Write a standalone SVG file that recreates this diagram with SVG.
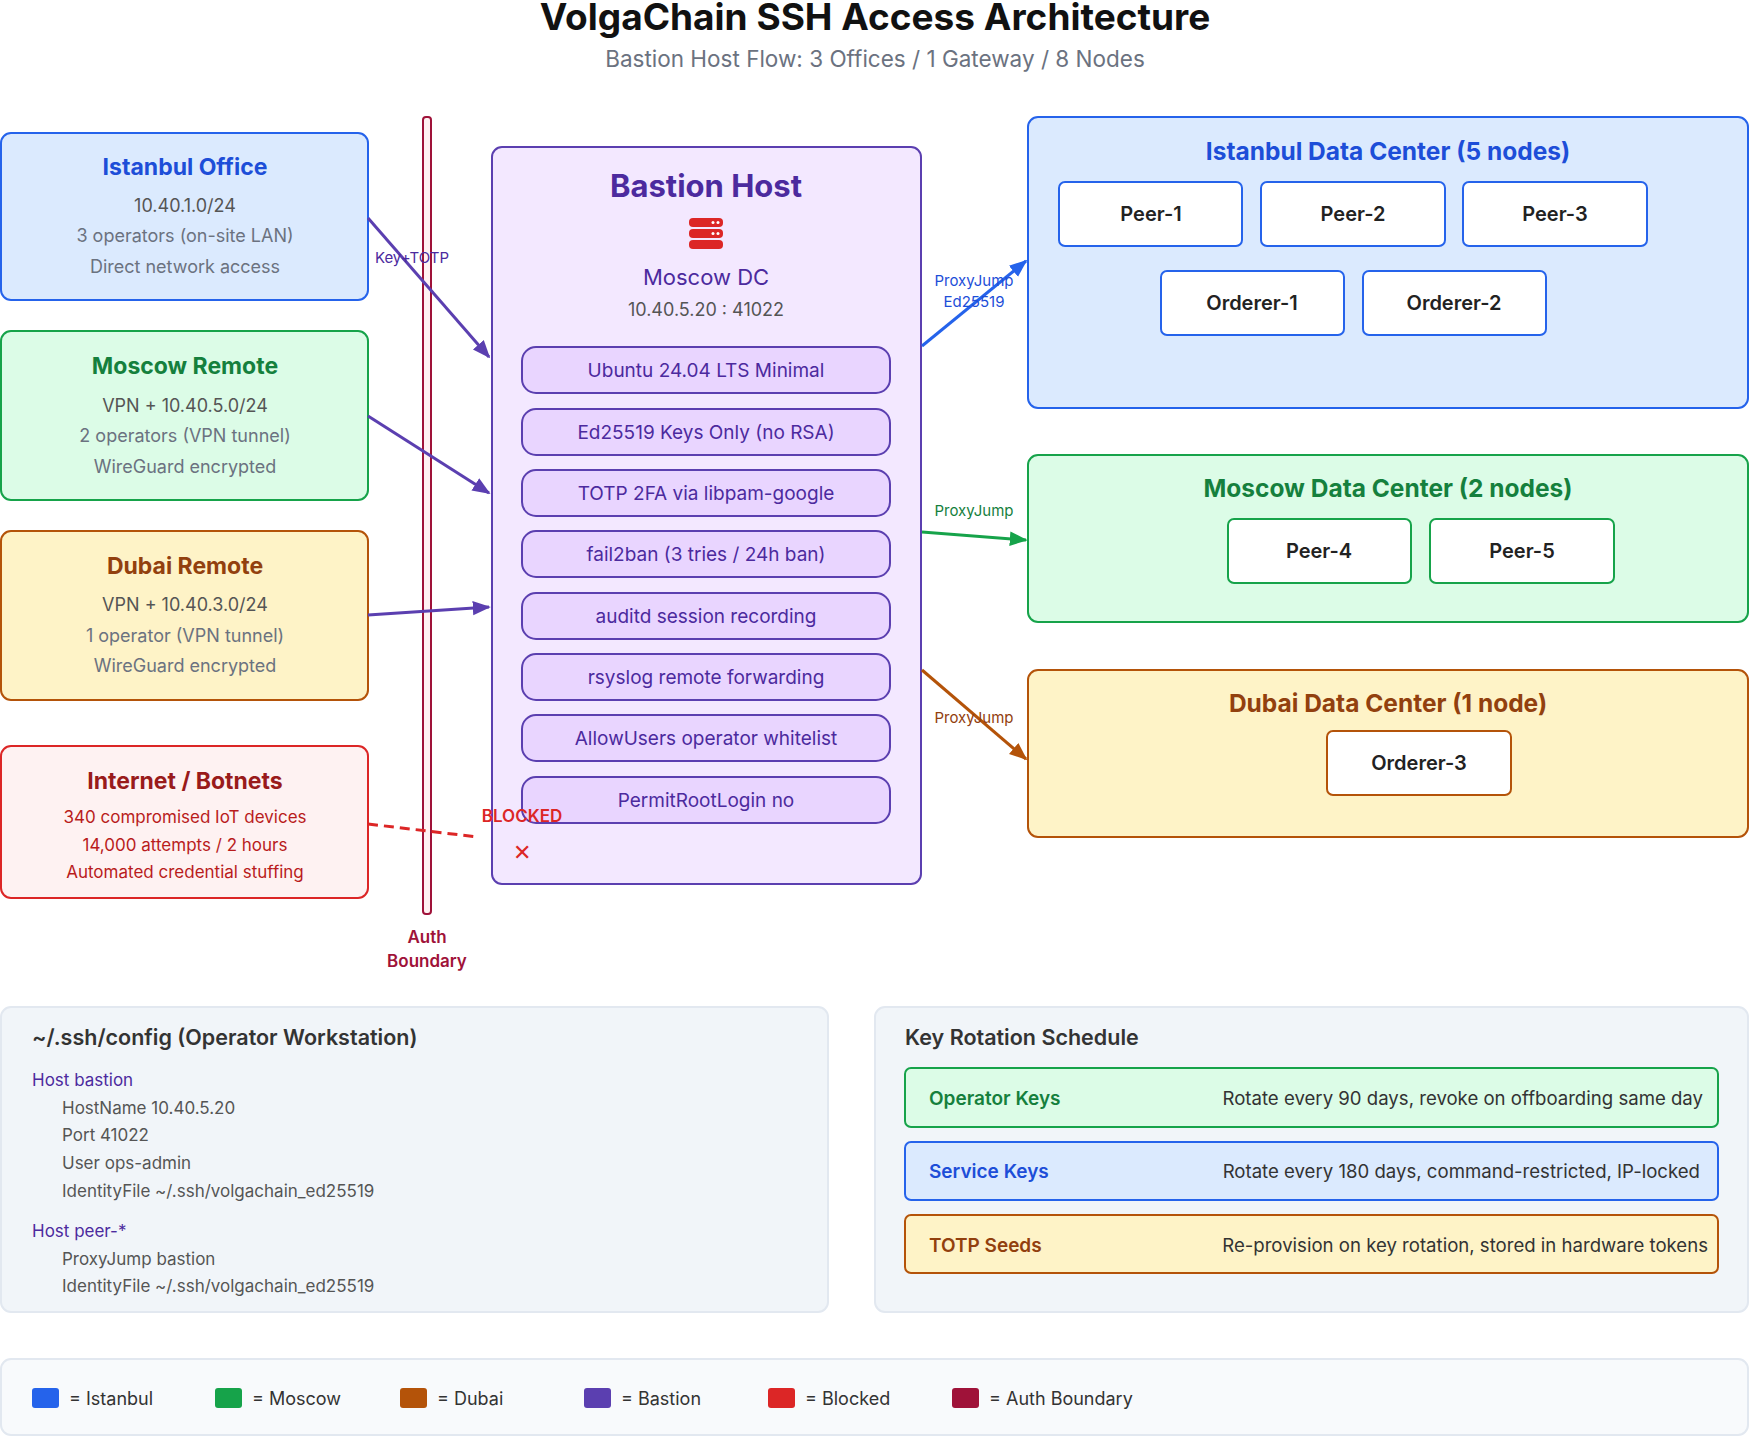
<svg xmlns="http://www.w3.org/2000/svg" width="1750" height="1437" viewBox="0 0 1750 1437">
<defs>
<style>
text{font-family:Inter,"Noto Sans","Liberation Sans",sans-serif}
.t{font-size:23px;font-weight:700;text-anchor:middle}
.s{font-size:18px;fill:#6b7280;text-anchor:middle}
.pill{fill:#e9d5ff;stroke:#5b3fb0;stroke-width:2}
.pt{font-size:19px;fill:#4c2a9e;text-anchor:middle}
.node{fill:#fff;stroke-width:2}
.nt{font-size:20px;font-weight:600;fill:#222;text-anchor:middle}
.lbl{font-size:15px;text-anchor:middle}
.cfg{font-size:17px;fill:#555}
.lg{font-size:18px;fill:#333}
.rd{font-size:18.6px;fill:#333;text-anchor:end}
</style>
<marker id="ap" viewBox="0 0 10 10" refX="9" refY="5" markerWidth="6" markerHeight="6" orient="auto" markerUnits="strokeWidth"><path d="M0,1L10,5L0,9z" fill="#5b3fb0"/></marker>
<marker id="ab" viewBox="0 0 10 10" refX="9" refY="5" markerWidth="6" markerHeight="6" orient="auto" markerUnits="strokeWidth"><path d="M0,1L10,5L0,9z" fill="#2563eb"/></marker>
<marker id="ag" viewBox="0 0 10 10" refX="9" refY="5" markerWidth="6" markerHeight="6" orient="auto" markerUnits="strokeWidth"><path d="M0,1L10,5L0,9z" fill="#16a34a"/></marker>
<marker id="ao" viewBox="0 0 10 10" refX="9" refY="5" markerWidth="6" markerHeight="6" orient="auto" markerUnits="strokeWidth"><path d="M0,1L10,5L0,9z" fill="#b45309"/></marker>
</defs>
<rect width="1750" height="1437" fill="#fff"/>
<text x="875" y="30" font-size="37" font-weight="700" text-anchor="middle" fill="#111">VolgaChain SSH Access Architecture</text>
<text x="875" y="67" font-size="22.5" text-anchor="middle" fill="#6b7280">Bastion Host Flow: 3 Offices / 1 Gateway / 8 Nodes</text>

<g id="istanbul-office"><rect x="1" y="133" width="367" height="167" rx="10" fill="#dbeafe" stroke="#2563eb" stroke-width="2"/>
<text x="185" y="175" class="t" fill="#1d4ed8">Istanbul Office</text>
<text x="185" y="212" class="s" style="fill:#555">10.40.1.0/24</text><text x="185" y="242" class="s">3 operators (on-site LAN)</text><text x="185" y="273" class="s">Direct network access</text></g>
<g id="moscow-remote"><rect x="1" y="331" width="367" height="169" rx="10" fill="#dcfce7" stroke="#16a34a" stroke-width="2"/>
<text x="185" y="374" class="t" fill="#15803d">Moscow Remote</text>
<text x="185" y="412" class="s" style="fill:#555">VPN + 10.40.5.0/24</text><text x="185" y="442" class="s">2 operators (VPN tunnel)</text><text x="185" y="473" class="s">WireGuard encrypted</text></g>
<g id="dubai-remote"><rect x="1" y="531" width="367" height="169" rx="10" fill="#fef3c7" stroke="#b45309" stroke-width="2"/>
<text x="185" y="574" class="t" fill="#92400e">Dubai Remote</text>
<text x="185" y="611" class="s" style="fill:#555">VPN + 10.40.3.0/24</text><text x="185" y="642" class="s">1 operator (VPN tunnel)</text><text x="185" y="672" class="s">WireGuard encrypted</text></g>
<g id="internet"><rect x="1" y="746" width="367" height="152" rx="10" fill="#fef2f2" stroke="#dc2626" stroke-width="2"/>
<text x="185" y="789" class="t" fill="#991b1b">Internet / Botnets</text>
<text x="185" y="823" class="s" style="fill:#b91c1c;font-size:17px">340 compromised IoT devices</text><text x="185" y="851" class="s" style="fill:#b91c1c;font-size:17px">14,000 attempts / 2 hours</text><text x="185" y="878" class="s" style="fill:#b91c1c;font-size:17px">Automated credential stuffing</text></g>

<g id="auth-boundary"><rect x="423" y="117" width="8" height="797" rx="3" fill="#fff1f2" stroke="#9f1239" stroke-width="2"/>
<text x="427" y="943" font-size="17" font-weight="600" fill="#9f1239" text-anchor="middle">Auth</text>
<text x="427" y="967" font-size="17" font-weight="600" fill="#9f1239" text-anchor="middle">Boundary</text></g>

<g id="bastion"><rect x="492" y="147" width="429" height="737" rx="10" fill="#f3e8ff" stroke="#5b3fb0" stroke-width="2"/>
<text x="706" y="197" font-size="31" font-weight="700" fill="#4c2a9e" text-anchor="middle">Bastion Host</text>
<g fill="#dc2626"><rect x="689" y="218" width="34" height="9" rx="4"/><rect x="689" y="229" width="34" height="9" rx="4"/><rect x="689" y="240" width="34" height="9" rx="4"/></g>
<g fill="#fff"><circle cx="713" cy="222.5" r="1.5"/><circle cx="718" cy="222.5" r="1.5"/><circle cx="713" cy="233.5" r="1.5"/><circle cx="718" cy="233.5" r="1.5"/></g>
<text x="706" y="285" font-size="22" fill="#4c2a9e" text-anchor="middle">Moscow DC</text>
<text x="706" y="316" font-size="18" fill="#555" text-anchor="middle">10.40.5.20 : 41022</text>
<rect class="pill" x="522" y="347" width="368" height="46" rx="14"/><text class="pt" x="706" y="377">Ubuntu 24.04 LTS Minimal</text>
<rect class="pill" x="522" y="409" width="368" height="46" rx="14"/><text class="pt" x="706" y="439">Ed25519 Keys Only (no RSA)</text>
<rect class="pill" x="522" y="470" width="368" height="46" rx="14"/><text class="pt" x="706" y="500">TOTP 2FA via libpam-google</text>
<rect class="pill" x="522" y="531" width="368" height="46" rx="14"/><text class="pt" x="706" y="561">fail2ban (3 tries / 24h ban)</text>
<rect class="pill" x="522" y="593" width="368" height="46" rx="14"/><text class="pt" x="706" y="623">auditd session recording</text>
<rect class="pill" x="522" y="654" width="368" height="46" rx="14"/><text class="pt" x="706" y="684">rsyslog remote forwarding</text>
<rect class="pill" x="522" y="715" width="368" height="46" rx="14"/><text class="pt" x="706" y="745">AllowUsers operator whitelist</text>
<rect class="pill" x="522" y="777" width="368" height="46" rx="14"/><text class="pt" x="706" y="807">PermitRootLogin no</text></g>

<g id="istanbul-dc"><rect x="1028" y="117" width="720" height="291" rx="10" fill="#dbeafe" stroke="#2563eb" stroke-width="2"/>
<text x="1388" y="160" class="t" style="font-size:24.5px" fill="#1d4ed8">Istanbul Data Center (5 nodes)</text>
<rect class="node" stroke="#2563eb" x="1059" y="182" width="183" height="64" rx="6"/><text class="nt" x="1151" y="221">Peer-1</text>
<rect class="node" stroke="#2563eb" x="1261" y="182" width="184" height="64" rx="6"/><text class="nt" x="1353" y="221">Peer-2</text>
<rect class="node" stroke="#2563eb" x="1463" y="182" width="184" height="64" rx="6"/><text class="nt" x="1555" y="221">Peer-3</text>
<rect class="node" stroke="#2563eb" x="1161" y="271" width="183" height="64" rx="6"/><text class="nt" x="1252" y="310">Orderer-1</text>
<rect class="node" stroke="#2563eb" x="1363" y="271" width="183" height="64" rx="6"/><text class="nt" x="1454" y="310">Orderer-2</text></g>
<g id="moscow-dc"><rect x="1028" y="455" width="720" height="167" rx="10" fill="#dcfce7" stroke="#16a34a" stroke-width="2"/>
<text x="1388" y="497" class="t" style="font-size:24.5px" fill="#15803d">Moscow Data Center (2 nodes)</text>
<rect class="node" stroke="#16a34a" x="1228" y="519" width="183" height="64" rx="6"/><text class="nt" x="1319" y="558">Peer-4</text>
<rect class="node" stroke="#16a34a" x="1430" y="519" width="184" height="64" rx="6"/><text class="nt" x="1522" y="558">Peer-5</text></g>
<g id="dubai-dc"><rect x="1028" y="670" width="720" height="167" rx="10" fill="#fef3c7" stroke="#b45309" stroke-width="2"/>
<text x="1388" y="712" class="t" style="font-size:24.5px" fill="#92400e">Dubai Data Center (1 node)</text>
<rect class="node" stroke="#b45309" x="1327" y="731" width="184" height="64" rx="6"/><text class="nt" x="1419" y="770">Orderer-3</text></g>

<g id="connectors" fill="none" stroke-width="3">
<line x1="368" y1="218" x2="489" y2="357" stroke="#5b3fb0" marker-end="url(#ap)"/>
<line x1="368" y1="416" x2="489" y2="493" stroke="#5b3fb0" marker-end="url(#ap)"/>
<line x1="368" y1="615" x2="489" y2="607" stroke="#5b3fb0" marker-end="url(#ap)"/>
<line x1="368" y1="824" x2="478" y2="837" stroke="#dc2626" stroke-dasharray="10,6"/>
<line x1="922" y1="346" x2="1026" y2="261" stroke="#2563eb" marker-end="url(#ab)"/>
<line x1="922" y1="532" x2="1026" y2="540" stroke="#16a34a" marker-end="url(#ag)"/>
<line x1="922" y1="670" x2="1026" y2="759" stroke="#b45309" marker-end="url(#ao)"/>
</g>
<g id="connector-labels" stroke="none">
<text class="lbl" x="412" y="263" fill="#4c2a9e">Key+TOTP</text>
<text class="lbl" x="974" y="286" fill="#1d4ed8">ProxyJump</text><text class="lbl" x="974" y="307" fill="#1d4ed8">Ed25519</text>
<text class="lbl" x="974" y="516" fill="#15803d">ProxyJump</text>
<text class="lbl" x="974" y="723" fill="#92400e">ProxyJump</text>
<text x="522" y="822" font-size="17" font-weight="600" fill="#dc2626" text-anchor="middle">BLOCKED</text>
<text x="522" y="860" font-size="22" fill="#dc2626" text-anchor="middle">✕</text>
</g>

<g id="ssh-config"><rect x="1" y="1007" width="827" height="305" rx="10" fill="#f1f5f9" stroke="#e2e8f0" stroke-width="2"/>
<text x="32" y="1045" font-size="21.5" font-weight="600" fill="#333">~/.ssh/config (Operator Workstation)</text>
<text x="32" y="1086" class="cfg" style="fill:#4c2a9e">Host bastion</text>
<text x="62" y="1114" class="cfg">HostName 10.40.5.20</text>
<text x="62" y="1141" class="cfg">Port 41022</text>
<text x="62" y="1169" class="cfg">User ops-admin</text>
<text x="62" y="1197" class="cfg">IdentityFile ~/.ssh/volgachain_ed25519</text>
<text x="32" y="1237" class="cfg" style="fill:#4c2a9e">Host peer-*</text>
<text x="62" y="1265" class="cfg">ProxyJump bastion</text>
<text x="62" y="1292" class="cfg">IdentityFile ~/.ssh/volgachain_ed25519</text></g>

<g id="key-rotation"><rect x="875" y="1007" width="873" height="305" rx="10" fill="#f1f5f9" stroke="#e2e8f0" stroke-width="2"/>
<text x="905" y="1045" font-size="21.5" font-weight="600" fill="#333">Key Rotation Schedule</text>
<rect x="905" y="1068" width="813" height="59" rx="6" fill="#dcfce7" stroke="#16a34a" stroke-width="2"/>
<text x="929" y="1105" font-size="19" font-weight="600" fill="#15803d">Operator Keys</text>
<text class="rd" x="1703" y="1105">Rotate every 90 days, revoke on offboarding same day</text>
<rect x="905" y="1142" width="813" height="58" rx="6" fill="#dbeafe" stroke="#2563eb" stroke-width="2"/>
<text x="929" y="1178" font-size="19" font-weight="600" fill="#1d4ed8">Service Keys</text>
<text class="rd" x="1700" y="1178">Rotate every 180 days, command-restricted, IP-locked</text>
<rect x="905" y="1215" width="813" height="58" rx="6" fill="#fef3c7" stroke="#b45309" stroke-width="2"/>
<text x="929" y="1252" font-size="19" font-weight="600" fill="#92400e">TOTP Seeds</text>
<text class="rd" x="1708" y="1252">Re-provision on key rotation, stored in hardware tokens</text></g>

<g id="legend"><rect x="1" y="1359" width="1747" height="76" rx="10" fill="#f8fafc" stroke="#e2e8f0" stroke-width="2"/>
<rect x="32" y="1388" width="27" height="20" rx="3" fill="#2563eb"/><text class="lg" x="69" y="1405">= Istanbul</text>
<rect x="215" y="1388" width="27" height="20" rx="3" fill="#16a34a"/><text class="lg" x="252" y="1405">= Moscow</text>
<rect x="400" y="1388" width="27" height="20" rx="3" fill="#b45309"/><text class="lg" x="437" y="1405">= Dubai</text>
<rect x="584" y="1388" width="27" height="20" rx="3" fill="#5b3fb0"/><text class="lg" x="621" y="1405">= Bastion</text>
<rect x="768" y="1388" width="27" height="20" rx="3" fill="#dc2626"/><text class="lg" x="805" y="1405">= Blocked</text>
<rect x="952" y="1388" width="27" height="20" rx="3" fill="#9f1239"/><text class="lg" x="989" y="1405">= Auth Boundary</text></g>
</svg>
